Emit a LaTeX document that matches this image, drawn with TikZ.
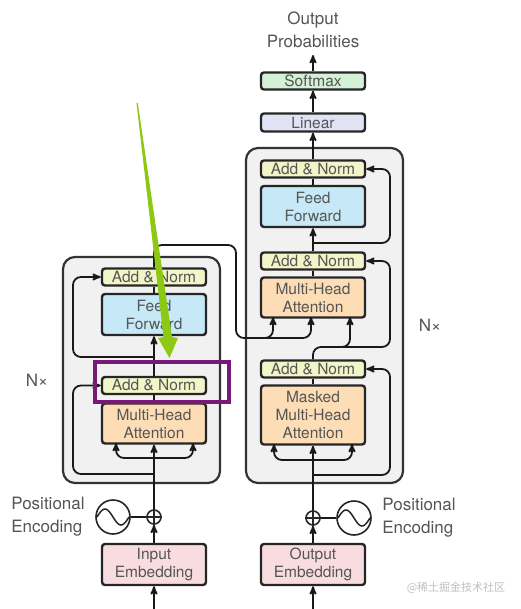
\documentclass[tikz,border=0pt]{standalone}
\usepackage{fontspec}
\setmainfont{TeX Gyre Heros}
\newfontfamily\cjkfont{Noto Sans CJK SC}
\usepackage{tikz}
\usetikzlibrary{calc}
\usetikzlibrary{arrows}
\definecolor{addcol}{RGB}{242,245,200}
\definecolor{ffcol}{RGB}{198,232,247}
\definecolor{attcol}{RGB}{252,221,182}
\definecolor{embcol}{RGB}{248,220,224}
\definecolor{lincol}{RGB}{226,226,245}
\definecolor{smcol}{RGB}{212,240,214}
\definecolor{stackcol}{RGB}{241,241,241}
\definecolor{txtcol}{RGB}{85,85,85}
\definecolor{limecol}{RGB}{140,200,20}
\definecolor{markcol}{RGB}{120,25,120}
\tikzset{
  blk/.style={draw=black!85, line width=2.4pt, rounded corners=3pt, minimum width=104pt,
    inner sep=0pt, align=center, text=txtcol, font=\fontsize{15.5}{18}\selectfont},
  addnorm/.style={blk, fill=addcol, minimum height=17pt},
  ffbox/.style={blk, fill=ffcol, minimum height=41pt},
  attbox/.style={blk, fill=attcol, minimum height=40pt},
  embbox/.style={blk, fill=embcol, minimum height=41pt},
  stack/.style={draw=black!80, line width=2.2pt, fill=stackcol, rounded corners=12pt, inner sep=0pt},
  conn/.style={line width=1.8pt, black!90},
  lbl/.style={text=txtcol, font=\fontsize{17}{23}\selectfont, align=left, inner sep=0pt},
  pluscirc/.style={circle, draw=black!85, line width=1.6pt, minimum size=14pt, inner sep=0pt},
  sinecirc/.style={circle, draw=black!85, line width=1.6pt, minimum size=34pt, inner sep=0pt}
}

\begin{document}
\begin{tikzpicture}[x=1pt, y=-1pt, >=stealth']
\useasboundingbox (0,0) rectangle (520,609);
\fill[white] (0,0) rectangle (520,609);

% the two stacks
\node[stack, minimum width=157pt, minimum height=226pt] (encstack) at (141.5,370) {};
\node[stack, minimum width=157pt, minimum height=335pt] (decstack) at (324.5,315.5) {};

% encoder
\node[addnorm] (encan2) at (154,277) {Add \& Norm};
\node[ffbox] (encff) at (154,314.5) {Feed\\Forward};
\node[addnorm] (encan1) at (154,385.5) {Add \& Norm};
\node[attbox] (encatt) at (154,423.5) {Multi-Head\\Attention};
\node[embbox] (inemb) at (154,564.5) {Input\\Embedding};
\node[pluscirc] (plusl) at (154,517) {};
\node[sinecirc] (sinel) at (113,517) {};

% decoder
\node[addnorm] (decan3) at (313,169) {Add \& Norm};
\node[ffbox] (decff) at (313,206.5) {Feed\\Forward};
\node[addnorm] (decan2) at (313,261) {Add \& Norm};
\node[attbox] (decatt) at (313,297.5) {Multi-Head\\Attention};
\node[addnorm] (decan1) at (313,369) {Add \& Norm};
\node[attbox, minimum height=59pt] (decmatt) at (313,415) {Masked\\Multi-Head\\Attention};
\node[embbox] (outemb) at (313,564.5) {Output\\Embedding};
\node[pluscirc] (plusr) at (313,518) {};
\node[sinecirc] (siner) at (354,518) {};
\node[blk, fill=lincol, minimum height=18pt] (linear) at (313,122.5) {Linear};
\node[blk, fill=smcol, minimum height=17pt] (softmax) at (313,81) {Softmax};

% labels
\node[lbl, align=center] (outprob) at (313,30) {Output\\Probabilities};
\node[lbl] (nxl) at (37,380) {N×};
\node[lbl] (nxr) at (430,325) {N×};
\node[lbl] (pel) at (48,517) {Positional\\Encoding};
\node[lbl] (per) at (419,518) {Positional\\Encoding};
\node[text=black!25, font=\cjkfont\fontsize{11}{13}\selectfont, inner sep=0pt] (mark) at (456,588) {@稀土掘金技术社区};

% free ends
\coordinate (inbot) at (154,609);
\coordinate (outbot) at (313,609);
\coordinate (outtop) at (313,55);

% plus signs and sine waves
\foreach \p in {plusl,plusr} {
  \draw[line width=1.4pt, black!85] (\p.north) -- (\p.south) (\p.west) -- (\p.east);
}
\foreach \s in {sinel,siner} {
  \draw[line width=1.5pt, black!85, shift={(\s.center)}] plot[domain=-16:16, samples=40] ({\x},{8*sin(\x/16*180)});
}
\draw[conn] (sinel.east) -- (plusl.west);
\draw[conn] (siner.west) -- (plusr.east);

% encoder connectors
\draw[conn,->] (inbot) -- (inemb.south);
\draw[conn,->] (inemb.north) -- (plusl.south);
\draw[conn,->] (plusl.north) -- (encatt.south);
\draw[conn,->, rounded corners=8pt] (154,458) -- (116,458) -- (116,443);
\draw[conn,->, rounded corners=8pt] (154,458) -- (193,458) -- (193,443);
\draw[conn,->, rounded corners=8pt] (154,474) -- (73,474) -- (73,385.5) -- (encan1.west);
\draw[conn] (encatt.north) -- (encan1.south);
\draw[conn,->] (encan1.north) -- (encff.south);
\draw[conn,->, rounded corners=8pt] (154,357) -- (73,357) -- (73,277) -- (encan2.west);
\draw[conn] (encff.north) -- (encan2.south);
\draw[conn,->, rounded corners=8pt] (encan2.north) -- (154,245) -- (236,245) -- (236,338) -- (311,338) -- (311,317);
\draw[conn,->, rounded corners=8pt] (255,338) -- (273,338) -- (273,317);

% decoder connectors
\draw[conn,->] (outbot) -- (outemb.south);
\draw[conn,->] (outemb.north) -- (plusr.south);
\draw[conn,->] (plusr.north) -- (decmatt.south);
\draw[conn,->, rounded corners=8pt] (313,460) -- (274,460) -- (274,444);
\draw[conn,->, rounded corners=8pt] (313,460) -- (352,460) -- (352,444);
\draw[conn,->, rounded corners=8pt] (313,475) -- (390,475) -- (390,369) -- (decan1.east);
\draw[conn] (decmatt.north) -- (decan1.south);
\draw[conn,->, rounded corners=8pt] (decan1.north) -- (313,347) -- (390,347) -- (390,261) -- (decan2.east);
\draw[conn,->, rounded corners=8pt] (330,347) -- (350,347) -- (350,317);
\draw[conn] (decatt.north) -- (decan2.south);
\draw[conn,->] (decan2.north) -- (decff.south);
\draw[conn,->, rounded corners=8pt] (313,243) -- (390,243) -- (390,169) -- (decan3.east);
\draw[conn] (decff.north) -- (decan3.south);
\draw[conn,->] (decan3.north) -- (linear.south);
\draw[conn,->] (linear.north) -- (softmax.south);
\draw[conn,->] (softmax.north) -- (outtop);

% highlight
\draw[markcol, line width=3.2pt] (95,362) rectangle (229,402);
\fill[limecol] (136.5,103) -- (137.8,103) -- (172,337) -- (178,338) -- (169.5,358) -- (158,338) -- (163.5,337) -- cycle;
\end{tikzpicture}
\end{document}
